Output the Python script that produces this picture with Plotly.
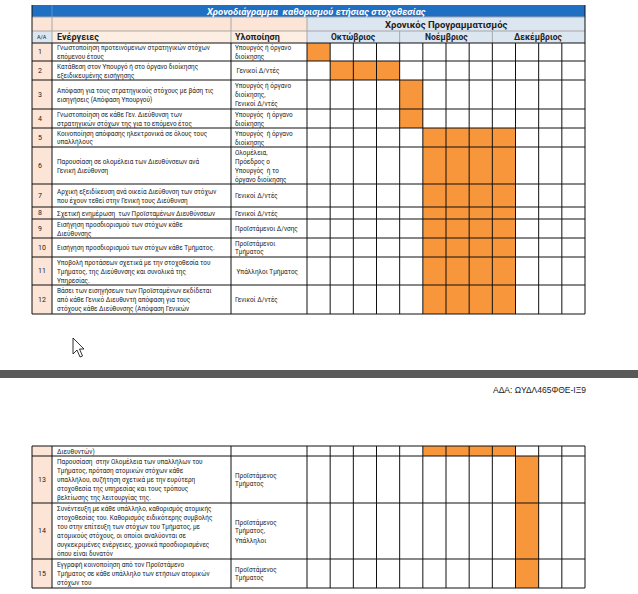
import plotly.graph_objects as go

# ---------------- data ----------------
title = "Χρονοδιάγραμμα  καθορισμού ετήσιας στοχοθεσίας"
schedule_title = "Χρονικός Προγραμματισμός"
header_labels = ["Α/Α", "Ενέργειες", "Υλοποίηση"]
months = ["Οκτώβριος", "Νοέμβριος", "Δεκέμβριος"]
weeks_per_month = 4
ada_label = "ΑΔΑ: ΩΥΔΛ465ΦΘΕ-ΙΞ9"

row_ids = [str(i) for i in range(1, 16)]
actions = [
    "Γνωστοποίηση προτεινόμενων στρατηγικών στόχων<br>επόμενου έτους",
    "Κατάθεση στον Υπουργό ή στο όργανο διοίκησης<br>εξειδικευμένης εισήγησης",
    "Απόφαση για τους στρατηγικούς στόχους με βάση τις<br>εισηγήσεις (Απόφαση Υπουργού)",
    "Γνωστοποίηση σε κάθε Γεν. Διεύθυνση των<br>στρατηγικών στόχων της για το επόμενο έτος",
    "Κοινοποίηση απόφασης ηλεκτρονικά σε όλους τους<br>υπαλλήλους",
    "Παρουσίαση σε ολομέλεια των Διευθύνσεων ανά<br>Γενική Διεύθυνση",
    "Αρχική εξειδίκευση ανά οικεία Διεύθυνση των στόχων<br>που έχουν τεθεί στην Γενική τους Διεύθυνση",
    "Σχετική ενημέρωση  των Προϊσταμένων Διευθύνσεων",
    "Εισήγηση προσδιορισμού των στόχων κάθε<br>Διεύθυνσης",
    "Εισήγηση προσδιορισμού των στόχων κάθε Τμήματος.",
    "Υποβολή προτάσεων σχετικά με την στοχοθεσία του<br>Τμήματος, της Διεύθυνσης και συνολικά της<br>Υπηρεσίας.",
    "Βάσει των εισηγήσεων των Προϊσταμένων εκδίδεται<br>από κάθε Γενικό Διευθυντή απόφαση για τους<br>στόχους κάθε Διεύθυνσης (Απόφαση Γενικών<br>Διευθυντών)",
    "Παρουσίαση  στην Ολομέλεια των υπαλλήλων του<br>Τμήματος, πρόταση ατομικών στόχων κάθε<br>υπαλλήλου, συζήτηση σχετικά με την ευρύτερη<br>στοχοθεσία της υπηρεσίας και τους τρόπους<br>βελτίωσης της λειτουργίας της.",
    "Συνέντευξη με κάθε υπάλληλο, καθορισμός ατομικής<br>στοχοθεσίας του. Καθορισμός ειδικότερης συμβολής<br>του στην επίτευξη των στόχων του Τμήματος, με<br>ατομικούς στόχους, οι οποίοι αναλύονται σε<br>συγκεκριμένες ενέργειες, χρονικά προσδιορισμένες<br>όπου είναι δυνατόν",
    "Εγγραφή κοινοποίηση από τον Προϊστάμενο<br>Τμήματος σε κάθε υπάλληλο των ετήσιων ατομικών<br>στόχων του",
]
implementers = [
    "Υπουργός ή όργανο<br>διοίκησης",
    " Γενικοί Δ/ντές",
    "Υπουργός ή όργανο<br>διοίκησης,<br>Γενικοί Δ/ντές",
    "Υπουργός  ή όργανο<br>διοίκησης",
    "Υπουργός  ή όργανο<br>διοίκησης",
    "Ολομέλεια,<br>Πρόεδρος ο<br>Υπουργός  ή το<br>όργανο διοίκησης",
    "Γενικοί Δ/ντές",
    "Γενικοί Δ/ντές",
    "Προϊστάμενοι Δ/νσης",
    "Προϊστάμενοι<br>Τμήματος",
    " Υπάλληλοι Τμήματος",
    "Γενικοί Δ/ντές",
    "Προϊστάμενος<br>Τμήματος",
    "Προϊστάμενος<br>Τμήματος,<br>Υπάλληλοι",
    "Προϊστάμενος<br>Τμήματος",
]
start_week = [1, 2, 5, 5, 6, 6, 6, 6, 6, 6, 6, 6, 10, 10, 10]
end_week = [1, 4, 5, 5, 9, 9, 9, 9, 9, 9, 9, 9, 10, 10, 10]

# ---------------- layout / style ----------------
W, H = 638, 594
X_AA, X_ACT, X_IMP, X_SCH, X_END = 32, 52, 231, 307, 585
HEAD_Y = [5, 17, 31, 43]
TOP_Y = [43, 61, 80, 109, 128, 147, 184, 207, 219, 238, 257, 285, 314]
BOTTOM_Y = [446, 456, 503, 559, 588]
SPLIT_ROW = 11          # index of the row broken across the page
SPLIT_LINES = 3         # lines of that row shown on the first page
LINE_H = 9.0            # text line pitch (px)

BLUE = "#1F6FC3"
PEACH = "#FCE4D6"
LIGHT_PEACH = "#FDEEE4"
BLUEGRAY = "#DCE6F1"
ORANGE = "#F7963A"
LINE = "#111111"
HLINE = "#A6A6A6"
TXT = "#222222"
FONT = "Roboto"
BODY = 6.4

n_weeks = weeks_per_month * len(months)

# segments of each row: list of (y0, y1, part)
segments = []
for i in range(12):
    segments.append([(TOP_Y[i], TOP_Y[i + 1], 0)])
segments[SPLIT_ROW].append((BOTTOM_Y[0], BOTTOM_Y[1], 1))
for k in range(3):
    segments.append([(BOTTOM_Y[k + 1], BOTTOM_Y[k + 2], 0)])

fig = go.Figure()

# orange schedule cells (week axis x2)
for i, segs in enumerate(segments):
    for (y0, y1, part) in segs:
        fig.add_trace(go.Bar(
            orientation="h",
            y=[(y0 + y1) / 2], width=[y1 - y0],
            base=[start_week[i] - 0.5], x=[end_week[i] - start_week[i] + 1],
            xaxis="x2", yaxis="y",
            marker=dict(color=ORANGE, line=dict(width=0)),
            showlegend=False, hoverinfo="skip",
        ))

shapes = []


def rect(x0, x1, y0, y1, color, xref="x"):
    shapes.append(dict(type="rect", xref=xref, yref="y", x0=x0, x1=x1, y0=y0, y1=y1,
                       fillcolor=color, line=dict(width=0), layer="below"))


def line(x0, y0, x1, y1, color=LINE, w=1, xref="x"):
    shapes.append(dict(type="line", xref=xref, yref="y", x0=x0, y0=y0, x1=x1, y1=y1,
                       line=dict(color=color, width=w), layer="above"))


# header backgrounds
rect(X_AA, X_END, HEAD_Y[0], HEAD_Y[1], BLUE)
rect(X_AA, X_SCH, HEAD_Y[1], HEAD_Y[2], PEACH)
rect(X_SCH, X_END, HEAD_Y[1], HEAD_Y[3], BLUEGRAY)
rect(X_AA, X_ACT, HEAD_Y[2], HEAD_Y[3], BLUEGRAY)
rect(X_ACT, X_SCH, HEAD_Y[2], HEAD_Y[3], LIGHT_PEACH)
# A/A column backgrounds
rect(X_AA, X_ACT, TOP_Y[0], TOP_Y[-1], PEACH)
rect(X_AA, X_ACT, BOTTOM_Y[0], BOTTOM_Y[-1], PEACH)

# header lines
line(X_ACT, HEAD_Y[0], X_ACT, HEAD_Y[1], "#5B8FD0")
line(X_AA, HEAD_Y[1], X_END, HEAD_Y[1], HLINE)
line(X_AA, HEAD_Y[2], X_END, HEAD_Y[2], HLINE)
for x in (X_ACT, X_IMP, X_SCH):
    line(x, HEAD_Y[1], x, HEAD_Y[3], HLINE)
for m in range(1, len(months)):
    line(m * weeks_per_month + 0.5, HEAD_Y[2], m * weeks_per_month + 0.5, HEAD_Y[3], HLINE, xref="x2")
line(X_AA, HEAD_Y[0], X_AA, HEAD_Y[3], LINE)
line(X_END, HEAD_Y[0], X_END, HEAD_Y[3], LINE)

# grid lines for both page parts
for ys in (TOP_Y, BOTTOM_Y):
    for y in ys:
        line(X_AA, y, X_END, y)
    for x in (X_AA, X_ACT, X_IMP, X_SCH, X_END):
        line(x, ys[0], x, ys[-1])
    for k in range(1, n_weeks):
        line(k + 0.5, ys[0], k + 0.5, ys[-1], xref="x2")

# page break bar
rect(0, W, 370, 378, "#595959")
# mouse pointer
shapes.append(dict(type="path", xref="x", yref="y",
                   path="M 73 338 L 73 354 L 77 350 L 80 357 L 82.5 356 L 79.5 349 L 84 349 Z",
                   fillcolor="white", line=dict(color="black", width=0.8), layer="above"))

ann = []


def text(x, y, s, size=BODY, bold=False, color=TXT, xanchor="left", italic=False, family=FONT):
    if bold:
        s = "<b>" + s + "</b>"
    if italic:
        s = "<i>" + s + "</i>"
    ann.append(dict(x=x, y=y, xref="x", yref="y", text=s, showarrow=False,
                    xanchor=xanchor, yanchor="middle", align="left",
                    font=dict(family=family, size=size, color=color)))


def block(x, yc, lines):
    n = len(lines)
    for j, s in enumerate(lines):
        text(x, yc + (j - (n - 1) / 2) * LINE_H, s)


text(316, (HEAD_Y[0] + HEAD_Y[1]) / 2, title, size=9.5, bold=True,
     italic=True, color="white", xanchor="center")
text(446, (HEAD_Y[1] + HEAD_Y[2]) / 2, schedule_title, size=9.5, bold=True,
     xanchor="center")
hy = (HEAD_Y[2] + HEAD_Y[3]) / 2
text(X_AA + 3, hy, header_labels[0], size=5.5)
text(X_ACT + 3, hy, header_labels[1], size=9, bold=True)
text(X_IMP + 2, hy, header_labels[2], size=9, bold=True)
mw = (X_END - X_SCH) / len(months)
for m, name in enumerate(months):
    text(X_SCH + mw * (m + 0.5), hy, name, size=8.5, bold=True, xanchor="center")

for i in range(15):
    segs = segments[i]
    lines = actions[i].split("<br>")
    for (y0, y1, part) in segs:
        yc = (y0 + y1) / 2
        if i == SPLIT_ROW:
            part_lines = lines[:SPLIT_LINES] if part == 0 else lines[SPLIT_LINES:]
        else:
            part_lines = lines
        block(X_ACT + 3, yc, part_lines)
        if part == 0:
            text(X_AA + 4, yc, row_ids[i], size=7)
            block(X_IMP + 2, yc, implementers[i].split("<br>"))

ann.append(dict(x=588, y=390, xref="x", yref="y", text=ada_label, showarrow=False,
                xanchor="right", yanchor="middle",
                font=dict(family="Liberation Sans", size=8.5, color="#222222")))

fig.update_layout(
    width=W, height=H, margin=dict(l=0, r=0, t=0, b=0),
    paper_bgcolor="white", plot_bgcolor="rgba(0,0,0,0)",
    xaxis=dict(range=[0, W], domain=[0, 1], visible=False, fixedrange=True),
    xaxis2=dict(range=[0.5, n_weeks + 0.5], domain=[X_SCH / W, X_END / W],
                anchor="y", visible=False, fixedrange=True),
    yaxis=dict(range=[H, 0], domain=[0, 1], visible=False, fixedrange=True),
    barmode="overlay", bargap=0,
    shapes=shapes, annotations=ann, showlegend=False,
)

fig.write_html("out.html", config={"displayModeBar": False},
               post_script="document.body.style.margin='0';document.body.style.overflow='hidden';")
